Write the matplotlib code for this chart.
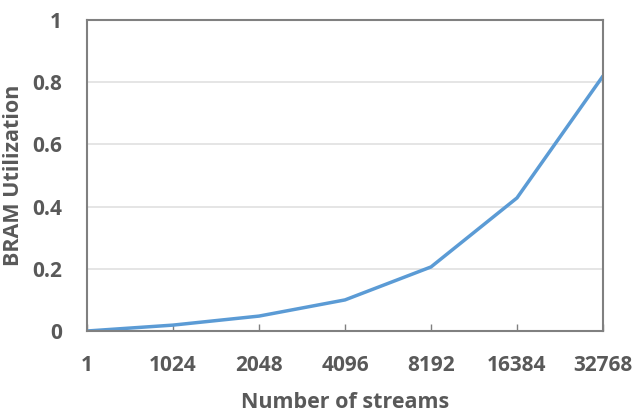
import matplotlib
matplotlib.use("Agg")
import matplotlib.pyplot as plt

streams = ["1", "1024", "2048", "4096", "8192", "16384", "32768"]
bram_util = [0.0, 0.019, 0.048, 0.10, 0.206, 0.428, 0.82]

text_color = "#595959"
plt.rcParams["font.family"] = ["Open Sans", "DejaVu Sans"]
plt.rcParams["font.weight"] = "bold"

fig = plt.figure(figsize=(6.37, 4.17), dpi=100)
ax = fig.add_axes([0.1366, 0.2062, 0.81, 0.7458])

x = list(range(len(streams)))
ax.plot(x, bram_util, color="#5B9BD5", lw=2.5, solid_capstyle="round")

ax.set_xlim(0, len(streams) - 1)
ax.set_ylim(0, 1)
ax.set_xticks(x)
ax.set_xticklabels(streams)
ax.set_yticks([0, 0.2, 0.4, 0.6, 0.8, 1])
ax.set_yticklabels(["0", "0.2", "0.4", "0.6", "0.8", "1"])

ax.yaxis.grid(True, color="#e0e0e0", lw=1.2)
ax.set_axisbelow(True)
for sp in ax.spines.values():
    sp.set_color("#808080")
    sp.set_linewidth(1.5)

ax.tick_params(axis="x", direction="in", length=5, width=1, color="#808080",
               pad=17, labelsize=15, labelcolor=text_color)
ax.tick_params(axis="y", length=0, pad=18, labelsize=15, labelcolor=text_color)
for lbl in ax.get_xticklabels() + ax.get_yticklabels():
    lbl.set_fontweight("bold")

ax.set_xlabel("Number of streams", fontsize=15.5, fontweight="bold",
              color=text_color, labelpad=12)
ax.set_ylabel("BRAM Utilization", fontsize=15.5, fontweight="bold",
              color=text_color, labelpad=6)

fig.savefig("out.png", dpi=100)
